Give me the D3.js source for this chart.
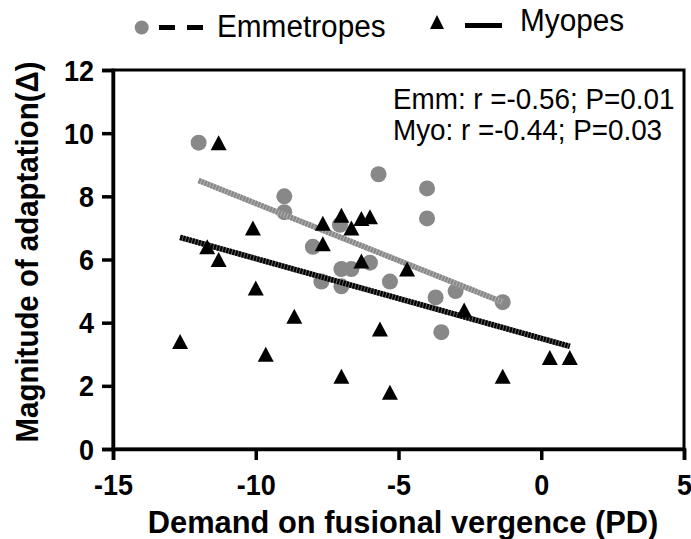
<!DOCTYPE html>
<html>
<head>
<meta charset="utf-8">
<script src="https://cdn.jsdelivr.net/npm/d3@7"></script>
<style>
  html, body { margin: 0; padding: 0; background: #fff; }
  svg { display: block; }
  text { font-family: "Liberation Sans", Arial, Helvetica, sans-serif; }
</style>
</head>
<body>
<svg id="chart" width="691" height="539"></svg>
<script>
// Emmetropes: demand on fusional vergence (PD) vs magnitude of adaptation
const emmX = [-12, -9, -9, -5.7, -4, -4, -8, -7.05, -7, -6.65, -6, -7.7, -7, -5.3, -3.7, -3, -1.35, -3.5];
const emmY = [9.7, 8.0, 7.5, 8.7, 8.25, 7.3, 6.4, 7.1, 5.7, 5.7, 5.9, 5.3, 5.15, 5.3, 4.8, 5.0, 4.65, 3.7];
// Myopes
const myoX = [-11.3, -10.1, -7.65, -7.0, -6.65, -6.3, -6.0, -7.65, -11.7, -11.3, -6.3, -4.7, -10, -8.65, -12.65, -9.65, -5.65, -7.0, -5.3, -2.7, 0.3, 1.0, -1.35];
const myoY = [9.7, 7.0, 7.15, 7.4, 7.0, 7.3, 7.35, 6.5, 6.4, 6.0, 5.95, 5.7, 5.1, 4.2, 3.4, 3.0, 3.8, 2.3, 1.8, 4.4, 2.9, 2.9, 2.3];
// Regression line end points [x, y]
const emmFitX = [-12, -1.35];
const emmFitY = [8.5, 4.65];
const myoFitX = [-12.65, 1.0];
const myoFitY = [6.7, 3.25];
// Axis ticks
const xTicks = [-15, -10, -5, 0, 5];
const yTicks = [0, 2, 4, 6, 8, 10, 12];
// Texts
const xTitle = "Demand on fusional vergence (PD)";
const yTitle = "Magnitude of adaptation(\u0394)";
const statLines = ["Emm: r =-0.56; P=0.01", "Myo: r =-0.44; P=0.03"];
const legendNames = ["Emmetropes", "Myopes"];

const GRAY = "#888888";
const svg = d3.select("#chart");

const x = d3.scaleLinear().domain([-15, 5]).range([113, 684]);
const y = d3.scaleLinear().domain([0, 12]).range([449, 70]);

const zip = (a, b) => a.map((v, i) => [v, b[i]]);
const emm = zip(emmX, emmY);
const myo = zip(myoX, myoY);

// frame around the plot area
svg.append("rect")
  .attr("x", x(-15)).attr("y", y(12))
  .attr("width", x(5) - x(-15)).attr("height", y(0) - y(12))
  .attr("fill", "none").attr("stroke", "#000").attr("stroke-width", 3);

// axes
const xAxis = svg.append("g")
  .attr("transform", `translate(0,${y(0)})`)
  .call(d3.axisBottom(x).tickValues(xTicks).tickSize(11).tickPadding(2).tickFormat(d3.format("d")));
const yAxis = svg.append("g")
  .attr("transform", `translate(${x(-15)},0)`)
  .call(d3.axisLeft(y).tickValues(yTicks).tickSize(11).tickPadding(2).tickFormat(d3.format("d")));

[xAxis, yAxis].forEach(g => {
  g.select(".domain").attr("stroke", "#000").attr("stroke-width", 3.5);
  g.selectAll(".tick line").attr("stroke", "#000").attr("stroke-width", 3.5);
  g.selectAll(".tick text")
    .attr("fill", "#000")
    .style("font-size", "29px")
    .style("font-weight", "bold");
});
xAxis.selectAll(".tick text")
  .attr("y", 0).attr("dy", 0)
  .attr("transform", "translate(0,46) scale(0.93,1)")
  .text(d => d3.format("d")(d).replace("\u2212", "-"));
yAxis.selectAll(".tick text")
  .attr("x", 0).attr("dy", 0)
  .attr("transform", "translate(-19,10) scale(0.93,1)")
  .text(d => d3.format("d")(d));

// regression lines with hatched stroke
function fitLine(xs, ys, base, top) {
  const pts = zip(xs, ys);
  const line = d3.line().x(d => x(d[0])).y(d => y(d[1]));
  svg.append("path").attr("d", line(pts)).attr("fill", "none")
    .attr("stroke", base).attr("stroke-width", 5.5);
  svg.append("path").attr("d", line(pts)).attr("fill", "none")
    .attr("stroke", top).attr("stroke-width", 5.5).attr("stroke-dasharray", "2.2,1");
}

// emmetrope circles
svg.append("g").selectAll("circle").data(emm).join("circle")
  .attr("cx", d => x(d[0])).attr("cy", d => y(d[1])).attr("r", 8)
  .attr("fill", GRAY);

fitLine(emmFitX, emmFitY, "#b4b4b4", GRAY);
fitLine(myoFitX, myoFitY, "#666666", "#000");

// myope triangles
const tri = "M0,-7.5L8,7.5L-8,7.5Z";
svg.append("g").selectAll("path").data(myo).join("path")
  .attr("d", tri)
  .attr("transform", d => `translate(${x(d[0])},${y(d[1])})`)
  .attr("fill", "#000");

// correlation statistics
svg.append("g").selectAll("text").data(statLines).join("text")
  .attr("transform", (d, i) => `translate(393,${109 + i * 30.5}) scale(0.96,1)`)
  .style("font-size", "29px")
  .attr("fill", "#000")
  .text(d => d);

// axis titles
svg.append("text")
  .attr("transform", `translate(403,533) scale(0.995,1)`)
  .attr("text-anchor", "middle")
  .style("font-size", "31px").style("font-weight", "bold")
  .text(xTitle);
svg.append("text")
  .attr("transform", `translate(38,252) rotate(-90) scale(0.95,1)`)
  .attr("text-anchor", "middle")
  .style("font-size", "31px").style("font-weight", "bold")
  .text(yTitle);

// legend
const lg = svg.append("g");
lg.append("circle").attr("cx", 141.7).attr("cy", 27.5).attr("r", 7).attr("fill", GRAY);
lg.append("line").attr("x1", 159).attr("x2", 203).attr("y1", 27.5).attr("y2", 27.5)
  .attr("stroke", "#000").attr("stroke-width", 5).attr("stroke-dasharray", "16,12");
lg.append("text").attr("transform", "translate(217,37) scale(0.96,1)")
  .style("font-size", "31px").text(legendNames[0]);
lg.append("path").attr("d", "M0,-7L7,7L-7,7Z")
  .attr("transform", "translate(437,22)").attr("fill", "#000");
lg.append("line").attr("x1", 465).attr("x2", 502).attr("y1", 25.5).attr("y2", 25.5)
  .attr("stroke", "#000").attr("stroke-width", 5);
lg.append("text").attr("transform", "translate(520,31) scale(0.96,1)")
  .style("font-size", "31px").text(legendNames[1]);
</script>
</body>
</html>
